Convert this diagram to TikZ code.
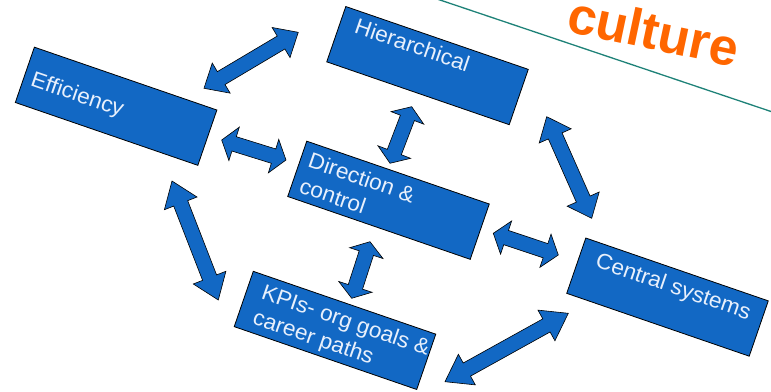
\documentclass[tikz,border=0pt]{standalone}
\usepackage{fontspec}
\setmainfont{Liberation Sans}
\usetikzlibrary{calc}

\definecolor{boxblue}{RGB}{18,104,196}
\definecolor{lbltext}{RGB}{232,240,252}
\definecolor{titleorange}{RGB}{255,102,0}
\definecolor{ruleteal}{RGB}{30,130,120}

% double-headed block arrow between two points
\tikzset{
  head len/.store in=\dblhl, head len=15pt,
  dblarrow/.style={
    draw=black, line width=0.6pt, fill=boxblue, line join=miter,
    to path={
      let \p1=(\tikztostart), \p2=(\tikztotarget),
          \n1={atan2(\y2-\y1,\x2-\x1)}, \n2={veclen(\x2-\x1,\y2-\y1)}
      in
      ([shift={(\p1)},rotate=\n1]0pt,0pt)
      -- ([shift={(\p1)},rotate=\n1]\dblhl,17.5pt)
      -- ([shift={(\p1)},rotate=\n1]\dblhl,7.5pt)
      -- ([shift={(\p1)},rotate=\n1]{\n2*1pt-\dblhl},7.5pt)
      -- ([shift={(\p1)},rotate=\n1]{\n2*1pt-\dblhl},17.5pt)
      -- ([shift={(\p1)},rotate=\n1]{\n2*1pt},0pt)
      -- ([shift={(\p1)},rotate=\n1]{\n2*1pt-\dblhl},-17.5pt)
      -- ([shift={(\p1)},rotate=\n1]{\n2*1pt-\dblhl},-7.5pt)
      -- ([shift={(\p1)},rotate=\n1]\dblhl,-7.5pt)
      -- ([shift={(\p1)},rotate=\n1]\dblhl,-17.5pt)
      -- cycle
    }
  },
  box/.style={draw=black, line width=0.8pt, fill=boxblue,
    minimum width=193pt, minimum height=58.5pt, inner sep=0pt, outer sep=0pt},
  lbl/.style={anchor=north west, inner sep=0pt, text=lbltext, align=left,
    font=\fontsize{22}{26.6}\selectfont, xscale=1.03},
  title/.style={anchor=base west, inner sep=0pt, text=titleorange,
    font=\fontsize{52}{62}\selectfont\bfseries, rotate=-12}
}

\begin{document}
\begin{tikzpicture}[x=1pt,y=-1pt]
\useasboundingbox (0,0) rectangle (771,391);
\clip (0,0) rectangle (771,391);
\fill[white] (0,0) rectangle (771,391);

% title and rule
\coordinate (rulestart) at (420,-6.75);
\coordinate (ruleend) at (790,117.9);
\draw[ruleteal, line width=1.3pt] (rulestart) -- (ruleend);
\node[title] (ttl) at (565,31) {culture};

% boxes
\begin{scope}[shift={(116.1,106.25)}, rotate=-19, transform shape]
  \node[box] (eff) at (0,0) {};
  \node[lbl] (efftxt) at (-88.8,-7.85) {Efficiency};
\end{scope}
\begin{scope}[shift={(427.5,65.6)}, rotate=-19, transform shape]
  \node[box] (hier) at (0,0) {};
  \node[lbl] (hiertxt) at (-80.9,-22.95) {Hierarchical};
\end{scope}
\begin{scope}[shift={(388.5,200.25)}, rotate=-19, transform shape]
  \node[box] (dir) at (0,0) {};
  \node[lbl] (dirtxt) at (-88.2,-21.05) {Direction \&\\control};
\end{scope}
\begin{scope}[shift={(335,330.4)}, rotate=-19, transform shape]
  \node[box] (kpi) at (0,0) {};
  \node[lbl] (kpitxt) at (-81.3,-22.05) {KPIs- org goals \&\\career paths};
\end{scope}
\begin{scope}[shift={(667.5,297.1)}, rotate=-19, transform shape]
  \node[box] (cen) at (0,0) {};
  \node[lbl] (centxt) at (-79.2,-20.95) {Central systems};
\end{scope}

% arrow end points
\coordinate (effhierA) at (204,88.3);
\coordinate (effhierB) at (298.3,32.3);
\coordinate (effdirA) at (221.7,140);
\coordinate (effdirB) at (286,160);
\coordinate (hierdirA) at (411.7,106.7);
\coordinate (hierdirB) at (390,163.3);
\coordinate (hiercenA) at (546.7,116.7);
\coordinate (hiercenB) at (591.7,218.3);
\coordinate (dircenA) at (493.3,233.3);
\coordinate (dircenB) at (558.3,255);
\coordinate (effkpiA) at (172,181);
\coordinate (effkpiB) at (218.3,300);
\coordinate (dirkpiA) at (370,241.7);
\coordinate (dirkpiB) at (351.7,298.3);
\coordinate (kpicenA) at (445,381.7);
\coordinate (kpicenB) at (568.3,313.3);

% arrows
\draw[dblarrow, head len=20pt] (effhierA) to (effhierB);
\draw[dblarrow, head len=13pt] (effdirA) to (effdirB);
\draw[dblarrow, head len=12pt] (hierdirA) to (hierdirB);
\draw[dblarrow, head len=21pt] (hiercenA) to (hiercenB);
\draw[dblarrow, head len=13.5pt] (dircenA) to (dircenB);
\draw[dblarrow, head len=24pt] (effkpiA) to (effkpiB);
\draw[dblarrow, head len=12pt] (dirkpiA) to (dirkpiB);
\draw[dblarrow, head len=25pt] (kpicenA) to (kpicenB);
\end{tikzpicture}
\end{document}
